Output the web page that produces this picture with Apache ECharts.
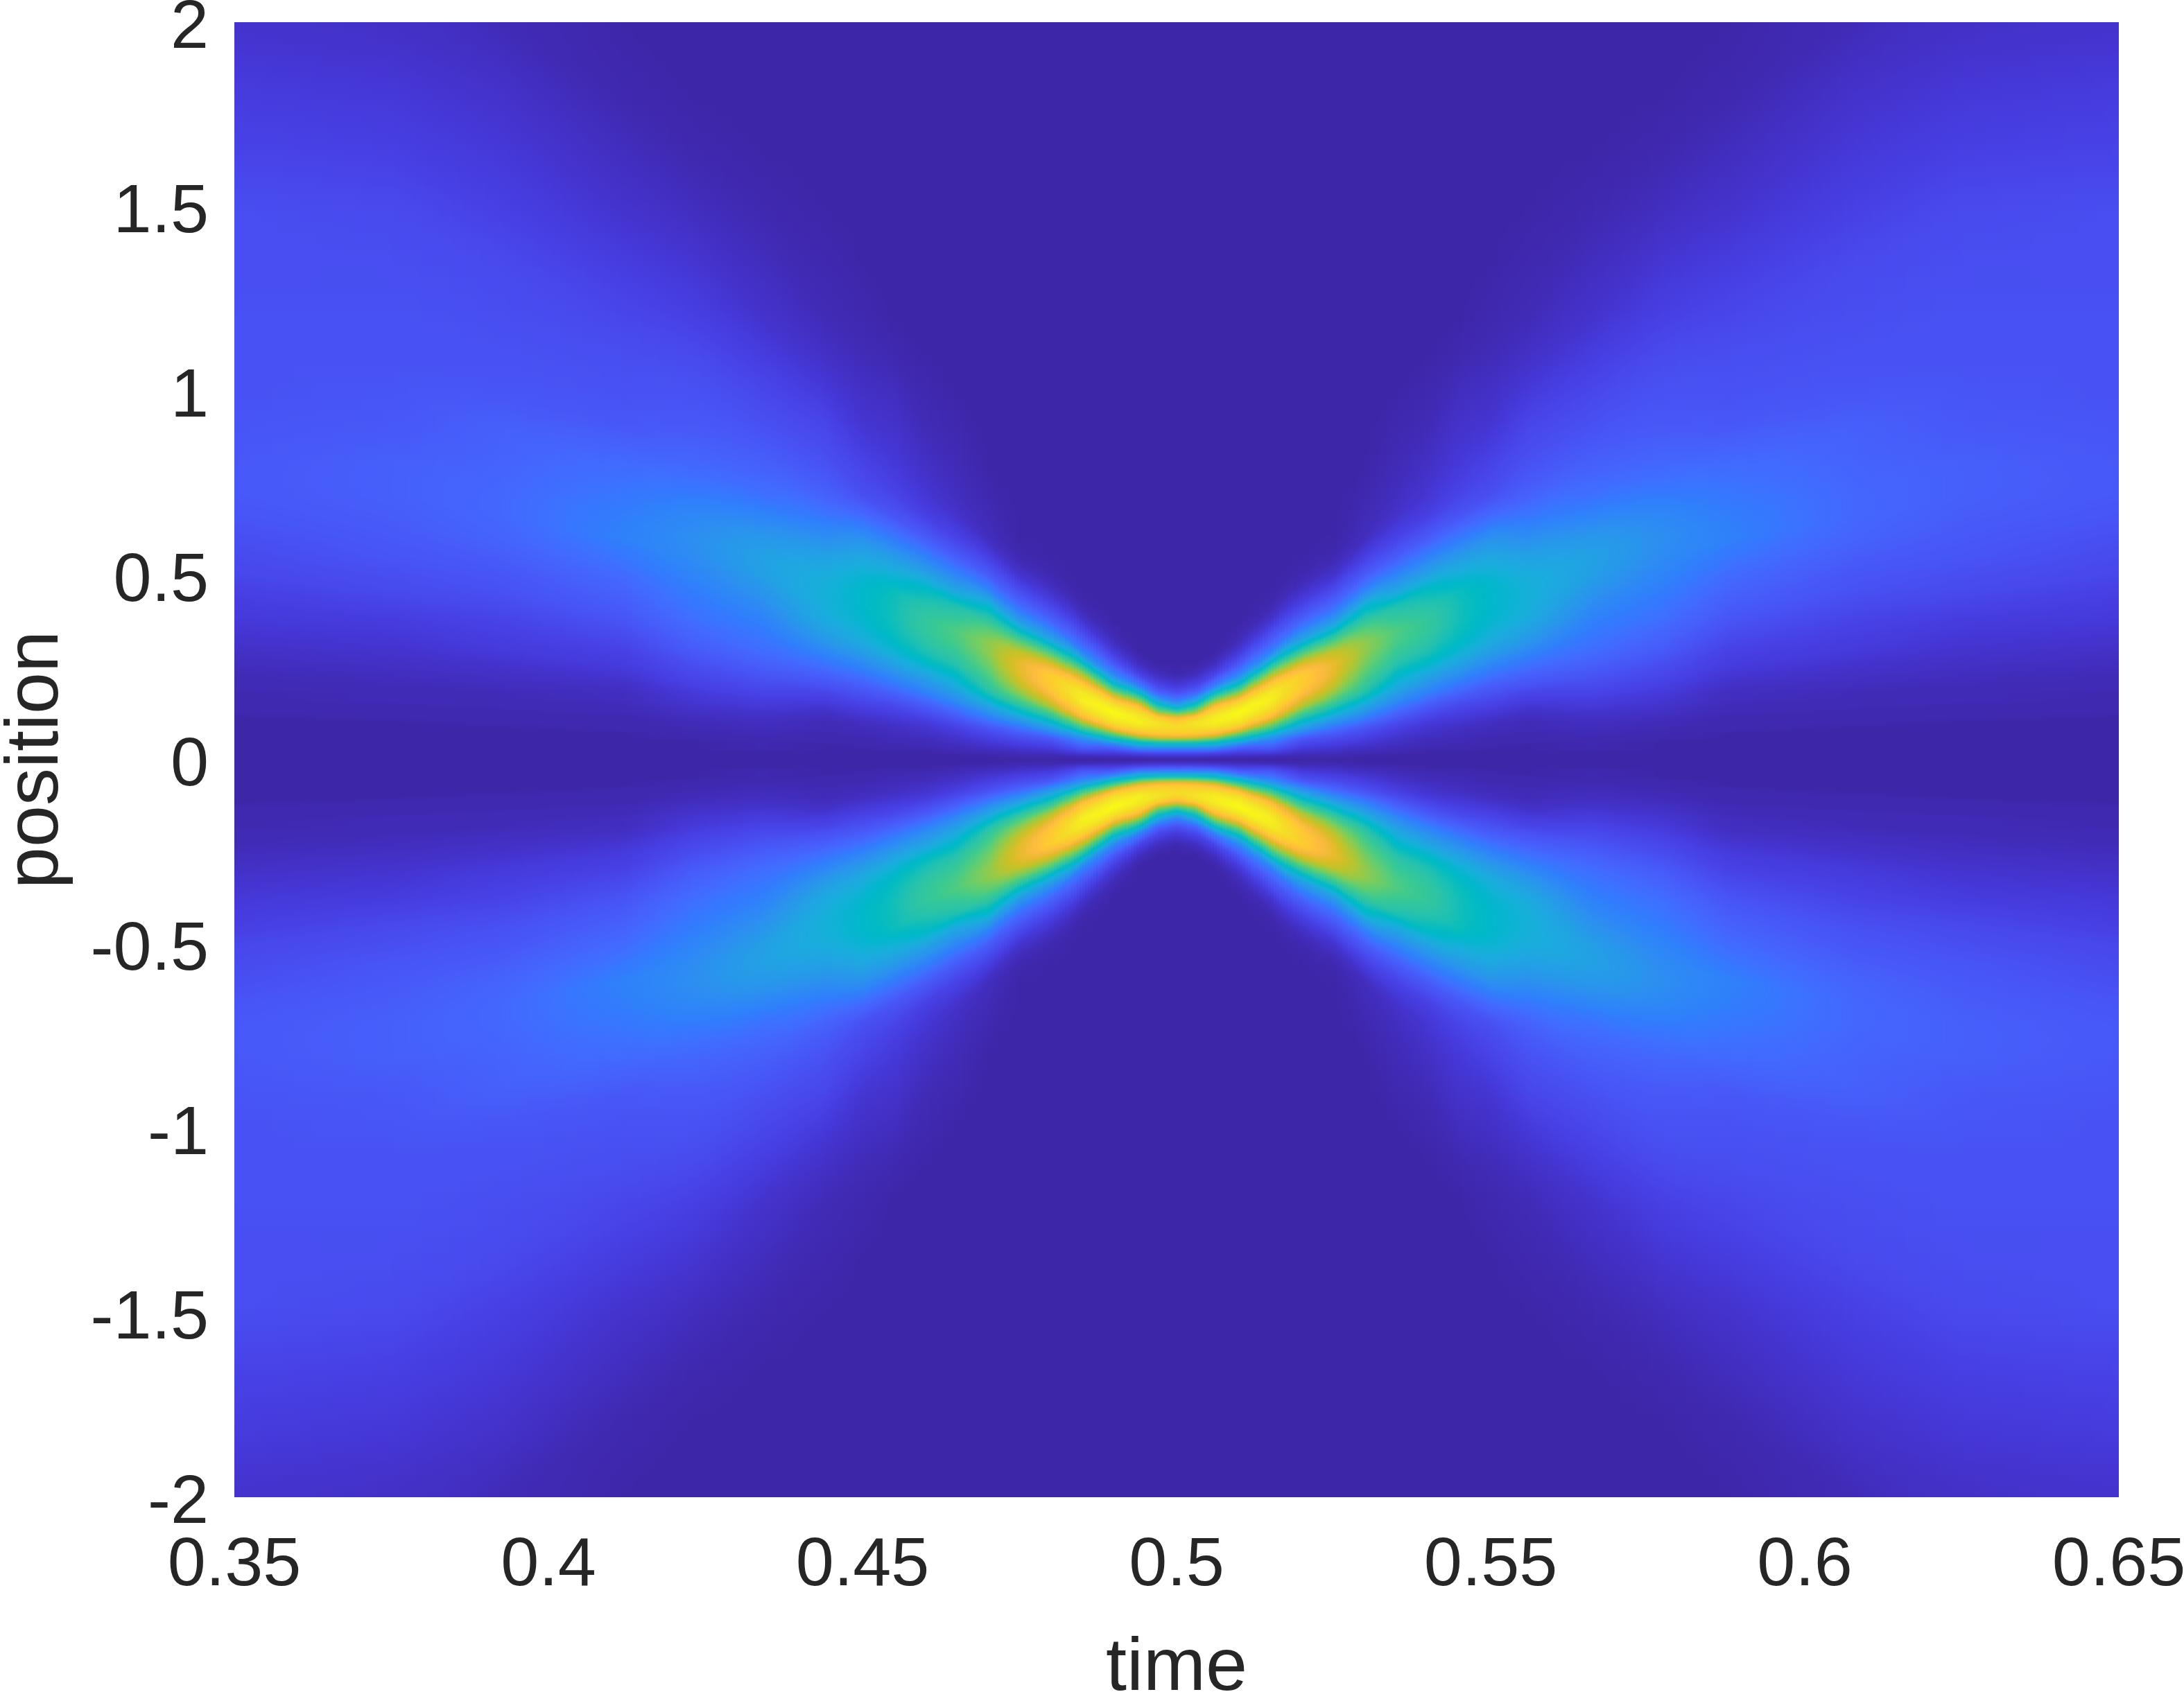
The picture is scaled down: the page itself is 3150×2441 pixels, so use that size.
<!DOCTYPE html>
<html>
<head>
<meta charset="utf-8">
<style>html,body{margin:0;padding:0;background:#fff}#c{width:3150px;height:2441px}</style>
<script src="https://cdn.jsdelivr.net/npm/echarts@6/dist/echarts.min.js"></script>
</head>
<body>
<div id="c"></div>
<script>
// Distance from t = 0.5 of each sampled column (the picture is mirror-symmetric about t = 0.5 and position = 0)
var timeOffsets = [0,.003,.006,.01,.015,.02,.025,.03,.035,.04,.045,.05,.056,.066,.077,.088,.108,.125,.15];
// Sampled positions (upper half), denser where the ridge is narrow
var positions = [0,.01,.02,.03,.04,.05,.06,.07,.08,.09,.10,.115,.13,.145,.16,.18,.20,.23,.26,.29,.32,.35,.38,.42,.46,.50,.55,.60,.66,.72,.80,.90,1.0,1.1,1.2,1.35,1.5,1.65,1.8,2.0];
var ridgeLine = [.09,.095,.11,.13,.17,.22,.26,.30,.34,.37,.41,.44,.46,.53,.60,.65,.72,.78,.82];
// Intensity (0-100), one list per time column, from position 0 upward; rows past the end of a list are dark (0)
var col000 = [0,5,14,27,42,58,78,88,91,93,90,80,58,40,26,14,7,1];
var col003 = [0,5,14,27,42,57,76,87,91,94,95,89,68,53,38,20,11,3];
var col006 = [0,4,13,26,40,52,70,83,90,95,98,97,92,84,68,48,26,10,3];
var col010 = [0,3,9,16,25,41,52,63,78,88,94,98,100,96,89,70,52,29,16,8,3,1];
var col015 = [0,2,9,15,20,26,33,42,53,62,70,83,90,95,98,97,91,72,50,28,18,11,5,1];
var col020 = [0,1,4,7,10,13,17,24,32,38,44,53,62,72,78,85,88,89,78,60,41,28,18,10,4,1];
var col025 = [0,1,3,5,8,10,13,16,20,25,30,38,46,53,60,68,74,79,80,75,62,46,33,20,12,5,1];
var col030 = [0,0,2,3,5,7,9,11,13,16,20,26,32,38,44,51,56,61,65,68,68,63,55,44,28,17,9,3,2,1];
var col035 = [0,0,1,2,3,4,5,7,8,10,12,16,20,25,30,35,41,47,53,57,60,61,57,51,38,28,17,10,5,3,2,1];
var col040 = [0,0,0,1,2,2,3,4,5,6,7,10,13,16,20,26,31,38,46,51,54,56,56,53,48,38,27,17,9,6,4,2,1];
var col045 = [0,0,0,1,1,2,2,3,3,4,5,7,9,11,14,18,23,30,37,43,47,49,50,50,49,43,35,25,15,10,7,5,3,1];
var col050 = [0,0,0,0,1,1,1,2,2,3,3,5,7,9,11,14,17,23,29,35,40,43,45,46,46,44,39,32,21,13,10,6,4,2,1];
var col056 = [0,0,0,0,0,1,1,1,2,2,2,3,4,6,8,10,14,18,23,28,33,37,40,42,42,41,37,31,24,18,14,11,7,4,2,1];
var col066 = [0,0,0,1,1,1,1,2,2,3,3,4,5,7,8,10,12,15,18,21,23,25,27,30,33,36,37,34,28,22,18,14,11,8,5,3,1];
var col077 = [0,0,0,0,0,0,1,1,1,2,2,3,4,5,6,7,9,11,13,16,18,20,22,24,26,28,30,31,29,25,20,16,14,12,9,6,3,1];
var col088 = [0,0,0,0,0,0,0,0,1,1,1,1,2,2,3,3,4,6,8,9,11,13,15,17,19,21,24,27,26,24,21,16,14,13,11,8,5,3,1];
var col108 = [0,0,0,0,0,0,0,0,0,0,1,1,1,2,2,2,3,4,5,7,8,9,10,12,14,15,17,19,20,20,19,18,15,14,13,12,9,7,5,2];
var col125 = [0,0,0,0,0,0,0,0,0,0,0,1,1,1,2,2,2,3,4,5,6,7,8,10,12,13,15,16,17,18,18,16,15,14,14,13,12,9,7,4];
var col150 = [0,0,0,0,0,0,0,0,0,0,0,0,1,1,1,1,2,2,3,4,5,6,7,8,9,11,12,13,15,16,16,15,14,14,14,13,13,10,8,5];
var columns = [col000,col003,col006,col010,col015,col020,col025,col030,col035,col040,col045,col050,col056,col066,col077,col088,col108,col125,col150];
var xTickStep = 0.05, xMin = 0.35, xMax = 0.65, yTickStep = 0.5, yMin = -2, yMax = 2;
var xTitle = 'time', yTitle = 'position';
// Colour ramp of the picture (low to high)
var ramp = [[.2422,.1504,.6603],[.2504,.165,.7076],[.2578,.1818,.7511],[.2647,.1978,.7952],[.2706,.2147,.8364],[.2751,.2342,.871],[.2783,.2559,.8991],[.2803,.2782,.9221],[.2813,.3006,.9414],[.281,.3228,.9579],[.2795,.3447,.9717],[.276,.3667,.9829],[.2699,.3892,.9906],[.2602,.4123,.9952],[.244,.4358,.9988],[.2206,.4603,.9973],[.1963,.4847,.9892],[.1834,.5074,.9798],[.1786,.5289,.9682],[.1764,.5499,.952],[.1687,.5703,.9359],[.154,.5902,.9218],[.146,.6091,.9079],[.138,.6276,.8973],[.1248,.6459,.8883],[.1113,.6635,.8763],[.0952,.6798,.8598],[.0689,.6948,.8394],[.0297,.7082,.8163],[.0036,.7203,.7917],[.0067,.7312,.766],[.0433,.7411,.7394],[.0964,.75,.712],[.1408,.7584,.6842],[.1717,.767,.6554],[.1938,.7758,.6251],[.2161,.7843,.5923],[.247,.7918,.5567],[.2906,.7973,.5188],[.3406,.8008,.4789],[.3909,.8029,.4354],[.4456,.8024,.3909],[.5044,.7993,.348],[.5616,.7942,.3045],[.6174,.7876,.2612],[.672,.7793,.2227],[.7242,.7698,.191],[.7738,.7598,.1646],[.8203,.7498,.1535],[.8634,.7406,.1596],[.9035,.733,.1774],[.9393,.7288,.21],[.9728,.7298,.2394],[.9956,.7434,.2371],[.997,.7659,.2199],[.9952,.7861,.1991],[.9892,.8063,.1794],[.9786,.8258,.168],[.9676,.8463,.16],[.961,.8697,.1537],[.9597,.8958,.1449],[.9625,.9197,.1311],[.9684,.945,.1122],[.9763,.9831,.0538]];

function colourOf(v) {
  var f = Math.max(0, Math.min(1, v / 100)) * (ramp.length - 1);
  var i = Math.min(ramp.length - 2, Math.floor(f)), k = f - i, a = ramp[i], b = ramp[i + 1];
  return 'rgb(' + Math.round((a[0] + (b[0] - a[0]) * k) * 255) + ',' + Math.round((a[1] + (b[1] - a[1]) * k) * 255) + ',' + Math.round((a[2] + (b[2] - a[2]) * k) * 255) + ')';
}

// Each band spans two neighbouring read columns, on both sides of t = 0.5
var nRows = positions.length;
function bandItem(c, side) {
  var item = [0.5 + side * timeOffsets[c], 0.5 + side * timeOffsets[c + 1], ridgeLine[c], ridgeLine[c + 1]];
  for (var n = 0; n < 2; n++) for (var r = 0; r < nRows; r++) {
    var val = columns[c + n][r];
    item.push(val === undefined ? 0 : val);
  }
  return item;
}
var bands = [];
for (var c = 0; c < timeOffsets.length - 1; c++) { bands.push(bandItem(c, 1)); bands.push(bandItem(c, -1)); }

// Shading between samples (like shading interp); the heights at which each strip's colours are evaluated
var stopLevels = [];
(function () {
  var y;
  for (y = yMax; y > 0.72; y -= 0.04) stopLevels.push(y);
  for (y = 0.72; y > -0.72; y -= 0.005) stopLevels.push(y);
  for (y = -0.72; y >= yMin - 1e-9; y -= 0.04) stopLevels.push(y);
})();
function readProfile(list, y) {
  if (y >= positions[nRows - 1]) return list[nRows - 1];
  var lo = 0, hi = nRows - 1;
  while (hi - lo > 1) { var mid = (lo + hi) >> 1; if (positions[mid] <= y) lo = mid; else hi = mid; }
  return list[lo] + (list[hi] - list[lo]) * (y - positions[lo]) / (positions[hi] - positions[lo]);
}
function renderBand(params, api) {
  var a = api.coord([api.value(0), yMax]), b = api.coord([api.value(1), yMin]);
  var xa = Math.round(a[0]), xb = Math.round(b[0]), top = Math.round(a[1]), bot = Math.round(b[1]);
  var w = Math.abs(xb - xa), dirX = xb > xa ? 1 : -1;
  if (!w) return null;
  var rA = api.value(2), rB = api.value(3), listA = [], listB = [];
  for (var r = 0; r < nRows; r++) { listA.push(api.value(4 + r)); listB.push(api.value(4 + nRows + r)); }
  var nx = Math.max(1, Math.round(w / 4)), kids = [];
  for (var s = 0; s < nx; s++) {
    var k = (s + 0.5) / nx, rMid = rA + (rB - rA) * k, stops = [];
    for (var q = 0; q < stopLevels.length; q++) {
      var y = Math.abs(stopLevels[q]);
      var m = (1 - k) * readProfile(listA, y * rA / rMid) + k * readProfile(listB, y * rB / rMid);
      stops.push({ offset: Math.min(1, (yMax - stopLevels[q]) / (yMax - yMin)), color: colourOf(m) });
    }
    var x0 = xa + dirX * Math.round(w * s / nx), x1 = xa + dirX * Math.round(w * (s + 1) / nx);
    kids.push({
      type: 'rect', silent: true,
      shape: { x: Math.min(x0, x1), y: top, width: Math.abs(x1 - x0), height: bot - top },
      style: { fill: new echarts.graphic.LinearGradient(0, 0, 0, 1, stops) }
    });
  }
  return { type: 'group', children: kids };
}

var chart = echarts.init(document.getElementById('c'), null, { renderer: 'canvas' });
var tickText = { fontFamily: 'Liberation Sans', fontSize: 99, color: '#262626' };
var nameText = { fontFamily: 'Liberation Sans', fontSize: 108, color: '#262626' };
chart.setOption({
  animation: false,
  backgroundColor: '#ffffff',
  grid: { left: 338, top: 32, width: 2718, height: 2128, containLabel: false, outerBoundsMode: 'none' },
  xAxis: {
    type: 'value', min: xMin, max: xMax, interval: xTickStep,
    name: xTitle, nameLocation: 'middle', nameGap: 194, nameTextStyle: nameText,
    axisLine: { show: false }, axisTick: { show: false }, splitLine: { show: false },
    axisLabel: Object.assign({ margin: 50, hideOverlap: false, showMinLabel: true, showMaxLabel: true }, tickText)
  },
  yAxis: {
    type: 'value', min: yMin, max: yMax, interval: yTickStep,
    name: yTitle, nameLocation: 'middle', nameGap: 231, nameTextStyle: nameText,
    axisLine: { show: false }, axisTick: { show: false }, splitLine: { show: false },
    axisLabel: Object.assign({ margin: 37, hideOverlap: false, showMinLabel: true, showMaxLabel: true, verticalAlign: 'top', lineHeight: 20 }, tickText)
  },
  series: [{
    type: 'custom', coordinateSystem: 'cartesian2d', clip: true, progressive: 0, silent: true,
    renderItem: renderBand, data: bands,
    encode: { x: [0, 1] }
  }]
});
</script>
</body>
</html>
